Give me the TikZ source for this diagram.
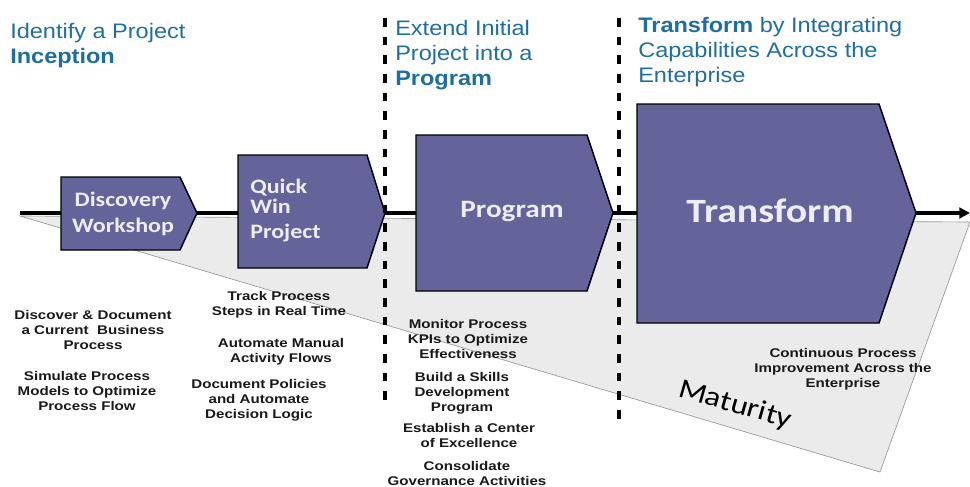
\documentclass[tikz,border=0pt]{standalone}
\usepackage{fontspec}
\setmainfont{Liberation Sans}
\newfontfamily\headfont{Liberation Sans}[FakeStretch=1.12]
\newfontfamily\notefont{Liberation Sans}[FakeStretch=1.2]
\newfontfamily\boxfont{Carlito}[FakeStretch=1.17]
\usetikzlibrary{arrows.meta}
\definecolor{stagefill}{RGB}{101,100,154}
\definecolor{headblue}{RGB}{30,110,160}
\definecolor{wedge}{RGB}{235,235,235}
\definecolor{boxtext}{RGB}{236,236,242}

\begin{document}
\begin{tikzpicture}[x=0.75pt,y=-0.75pt,
  stage/.style={fill=stagefill,draw=black,line width=1.1pt,line join=miter},
  stagetext/.style={text=boxtext,inner sep=0,anchor=base},
  head/.style={text=headblue,font=\headfont\fontsize{15.75}{18.75}\selectfont,align=left,anchor=base west,inner sep=0},
  note/.style={text=black!90,font=\notefont\bfseries\fontsize{9.45}{11.25}\selectfont,align=center,anchor=base,inner sep=0},
  phase/.style={line width=2.3pt,dash pattern=on 6.5pt off 7.5pt}]
\useasboundingbox (0,0) rectangle (970,486);
% maturity wedge
\fill[wedge,draw=gray!80,line width=0.5pt] (20,216)--(970,222)--(880,472)--cycle;
% time line
\coordinate (start) at (20,213);
\coordinate (end) at (970,213);
\draw[line width=2.6pt,-{Triangle[length=8pt,width=8pt]}] (start)--(end);
% stages
\draw[stage] (61,177)--(180,177)--(197,213)--(180,250)--(61,250)--cycle;
\draw[stage] (238,155)--(367,155)--(385,213)--(367,268)--(238,268)--cycle;
\draw[stage] (416,135)--(587,135)--(613,213)--(587,291)--(416,291)--cycle;
\draw[stage] (637,104)--(879,104)--(916,213)--(879,323)--(637,323)--cycle;
% (base = last line)
\node[stagetext,align=center,font=\boxfont\bfseries\fontsize{15.4}{19.5}\selectfont] (disc) at (123,232) {Discovery\\Workshop};
\node[stagetext,align=left,anchor=base west,font=\boxfont\bfseries\fontsize{15.4}{15}\selectfont] (quick) at (250,238) {Quick\\Win\\[3.75pt]Project};
\node[stagetext,font=\boxfont\bfseries\fontsize{18.75}{20}\selectfont] (prog) at (512,217) {Program};
\node[stagetext,font=\boxfont\bfseries\fontsize{25.5}{28}\selectfont] (trans) at (770,222) {Transform};
% phase borders
\coordinate (p1top) at (385,18);
\coordinate (p1bot) at (385,404);
\coordinate (p2top) at (619,18);
\coordinate (p2bot) at (619,420);
\draw[phase] (p1top)--(p1bot);
\draw[phase] (p2top)--(p2bot);
% headings
\node[head] (ident) at (10,63) {Identify a Project\\\textbf{Inception}};
\node[head] (extend) at (395,85) {Extend Initial\\Project into a\\\textbf{Program}};
\node[head] (integr) at (638,82) {\textbf{Transform} by Integrating\\Capabilities Across the\\Enterprise};
% activities
\node[note] (docu) at (93,349) {Discover \& Document\\a Current~ Business\\Process};
\node[note] (simu) at (87,410) {Simulate Process\\Models to Optimize\\Process Flow};
\node[note] (track) at (279,315) {Track Process\\Steps in Real Time};
\node[note] (autom) at (281,362) {Automate Manual\\Activity Flows};
\node[note] (polic) at (259,418) {Document Policies\\and Automate\\Decision Logic};
\node[note] (kpis) at (468,358) {Monitor Process\\KPIs to Optimize\\Effectiveness};
\node[note] (skill) at (462,411) {Build a Skills\\Development\\Program};
\node[note] (excel) at (469,447) {Establish a Center\\of Excellence};
\node[note] (gover) at (467,485) {Consolidate\\Governance Activities};
\node[note] (impro) at (843,387) {Continuous Process\\Improvement Across the\\Enterprise};
\node[rotate=-16,font=\boxfont\fontsize{21}{21}\selectfont] (matur) at (735,405) {Maturity};
\end{tikzpicture}
\end{document}
